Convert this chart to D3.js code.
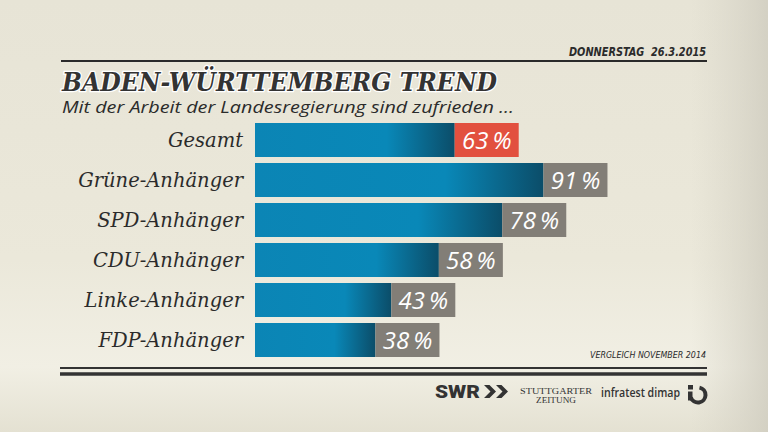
<!DOCTYPE html>
<html>
<head>
<meta charset="utf-8">
<script src="https://cdn.jsdelivr.net/npm/d3@7"></script>
<style>
  html, body { margin: 0; padding: 0; }
  body { width: 768px; height: 432px; overflow: hidden; }
  svg { display: block; }
</style>
</head>
<body>
<svg width="768" height="432"></svg>
<script>
  // data
  const categories = ['Gesamt', 'Grüne-Anhänger', 'SPD-Anhänger', 'CDU-Anhänger', 'Linke-Anhänger', 'FDP-Anhänger'];
  const values = [63, 91, 78, 58, 43, 38];
  const highlighted = ['Gesamt'];
  const dateLabel = 'DONNERSTAG  26.3.2015';
  const titleText = 'BADEN-WÜRTTEMBERG TREND';
  const subtitleText = 'Mit der Arbeit der Landesregierung sind zufrieden ...';
  const noteText = 'VERGLEICH NOVEMBER 2014';

  const rows = categories.map((c, i) => ({ name: c, value: values[i] }));

  const svg = d3.select('svg');
  const defs = svg.append('defs');

  // background
  const bg = defs.append('linearGradient').attr('id', 'bg')
    .attr('x1', 0).attr('y1', 0).attr('x2', 0).attr('y2', 1);
  bg.append('stop').attr('offset', '0%').attr('stop-color', '#e7e4d6');
  bg.append('stop').attr('offset', '60%').attr('stop-color', '#ebe8da');
  bg.append('stop').attr('offset', '85%').attr('stop-color', '#f1efe4');
  bg.append('stop').attr('offset', '100%').attr('stop-color', '#e4e1d2');

  const side = defs.append('linearGradient').attr('id', 'side')
    .attr('x1', 0).attr('y1', 0).attr('x2', 1).attr('y2', 0);
  side.append('stop').attr('offset', '0%').attr('stop-color', '#d6d3c6').attr('stop-opacity', 0.0);
  side.append('stop').attr('offset', '90%').attr('stop-color', '#d6d3c6').attr('stop-opacity', 0.0);
  side.append('stop').attr('offset', '100%').attr('stop-color', '#cfccbf').attr('stop-opacity', 0.8);

  const blue = defs.append('linearGradient').attr('id', 'barBlue')
    .attr('x1', 0).attr('y1', 0).attr('x2', 1).attr('y2', 0);
  blue.append('stop').attr('offset', '0%').attr('stop-color', '#0b85b5');
  blue.append('stop').attr('offset', '66%').attr('stop-color', '#0988b8');
  blue.append('stop').attr('offset', '100%').attr('stop-color', '#0b4d69');

  svg.append('rect').attr('width', 768).attr('height', 432).attr('fill', 'url(#bg)');
  svg.append('rect').attr('width', 768).attr('height', 432).attr('fill', 'url(#side)');

  // scales
  const x = d3.scaleLinear().domain([0, 100]).range([255, 572]);
  const y = d3.scaleBand().domain(categories).range([120, 360])
    .paddingInner(0.15).paddingOuter(0.075);
  const boxW = 64;

  // header
  svg.append('text')
    .attr('x', 706).attr('y', 56)
    .attr('text-anchor', 'end')
    .attr('font-family', 'DejaVu Sans Condensed, DejaVu Sans')
    .attr('font-weight', 'bold').attr('font-style', 'italic')
    .attr('font-size', 11.5).attr('fill', '#2b2b2b')
    .attr('textLength', 137).attr('lengthAdjust', 'spacingAndGlyphs')
    .style('white-space', 'pre')
    .text(dateLabel);

  svg.append('line')
    .attr('x1', 61).attr('x2', 707).attr('y1', 61).attr('y2', 61)
    .attr('stroke', '#2a2a2a').attr('stroke-width', 2);

  svg.append('text')
    .attr('x', 62).attr('y', 90.5)
    .attr('font-family', 'DejaVu Serif Condensed, DejaVu Serif')
    .attr('font-weight', 'bold').attr('font-style', 'italic')
    .attr('font-size', 26.5).attr('fill', '#333333')
    .attr('stroke', '#ffffff').attr('stroke-width', 2.5)
    .attr('paint-order', 'stroke')
    .attr('textLength', 435).attr('lengthAdjust', 'spacingAndGlyphs')
    .text(titleText);

  svg.append('text')
    .attr('x', 62).attr('y', 112.5)
    .attr('font-family', 'Open Sans')
    .attr('font-style', 'italic')
    .attr('font-size', 16.5).attr('fill', '#2b2b2b')
    .attr('textLength', 452).attr('lengthAdjust', 'spacingAndGlyphs')
    .text(subtitleText);

  // bars
  const g = svg.append('g');
  const row = g.selectAll('g.row').data(rows)
    .enter().append('g').attr('class', 'row')
    .attr('transform', d => `translate(0, ${y(d.name)})`);

  row.append('rect')
    .attr('x', x(0))
    .attr('width', d => x(d.value) - x(0))
    .attr('height', y.bandwidth())
    .attr('fill', 'url(#barBlue)');

  row.append('rect')
    .attr('x', d => x(d.value))
    .attr('width', boxW)
    .attr('height', y.bandwidth())
    .attr('fill', d => highlighted.includes(d.name) ? '#e2503f' : '#827e77');

  row.append('text')
    .attr('x', d => x(d.value) + boxW / 2)
    .attr('y', y.bandwidth() / 2 + 8.5)
    .attr('text-anchor', 'middle')
    .attr('font-family', 'Open Sans')
    .attr('font-style', 'italic')
    .attr('font-size', 24).attr('fill', '#ffffff')
    .text(d => d.value + '\u2009%');

  row.append('text')
    .attr('x', 243)
    .attr('y', y.bandwidth() / 2 + 7)
    .attr('text-anchor', 'end')
    .attr('font-family', 'DejaVu Serif')
    .attr('font-style', 'italic')
    .attr('font-size', 19.5).attr('fill', '#2b2b2b')
    .text(d => d.name);

  // footer
  svg.append('text')
    .attr('x', 706).attr('y', 358)
    .attr('text-anchor', 'end')
    .attr('font-family', 'DejaVu Sans Condensed, DejaVu Sans')
    .attr('font-style', 'italic')
    .attr('font-size', 8.5).attr('fill', '#2b2b2b')
    .attr('textLength', 116).attr('lengthAdjust', 'spacingAndGlyphs')
    .text(noteText);

  svg.append('line')
    .attr('x1', 60).attr('x2', 707).attr('y1', 368).attr('y2', 368)
    .attr('stroke', '#333333').attr('stroke-width', 2);
  svg.append('line')
    .attr('x1', 60).attr('x2', 707).attr('y1', 374).attr('y2', 374)
    .attr('stroke', '#333333').attr('stroke-width', 3.5);

  const logos = svg.append('g').attr('fill', '#333333');

  logos.append('text')
    .attr('x', 435).attr('y', 398)
    .attr('font-family', 'Roboto, DejaVu Sans')
    .attr('font-weight', 900)
    .attr('font-size', 17.5)
    .attr('textLength', 45).attr('lengthAdjust', 'spacingAndGlyphs')
    .text('SWR');
  // SWR chevrons
  const chevron = 'M0,0 L5.5,0 L12,6.5 L5.5,13 L0,13 L6.5,6.5 Z';
  logos.append('path').attr('d', chevron).attr('transform', 'translate(484,385)');
  logos.append('path').attr('d', chevron).attr('transform', 'translate(496,385)');

  logos.append('text')
    .attr('x', 556).attr('y', 394)
    .attr('text-anchor', 'middle')
    .attr('font-family', 'Liberation Serif')
    .attr('font-size', 9)
    .attr('textLength', 72).attr('lengthAdjust', 'spacingAndGlyphs')
    .text('STUTTGARTER');
  logos.append('text')
    .attr('x', 556).attr('y', 403)
    .attr('text-anchor', 'middle')
    .attr('font-family', 'Liberation Serif')
    .attr('font-size', 9)
    .attr('textLength', 40).attr('lengthAdjust', 'spacingAndGlyphs')
    .text('ZEITUNG');

  logos.append('text')
    .attr('x', 601).attr('y', 397)
    .attr('font-family', 'Open Sans')
    .attr('font-weight', 600)
    .attr('font-size', 13)
    .attr('textLength', 79).attr('lengthAdjust', 'spacingAndGlyphs')
    .text('infratest dimap');

  // dimap icon
  const icon = logos.append('g').attr('transform', 'translate(698, 395)');
  icon.append('path')
    .attr('d', d3.arc()({ innerRadius: 5.5, outerRadius: 9.5, startAngle: 0.2, endAngle: Math.PI * 2 * 0.7 }));
  icon.append('rect').attr('x', -10).attr('y', -10).attr('width', 5).attr('height', 4.5);
  icon.append('rect').attr('x', -10).attr('y', -3.5).attr('width', 4.5).attr('height', 9);
</script>
</body>
</html>
